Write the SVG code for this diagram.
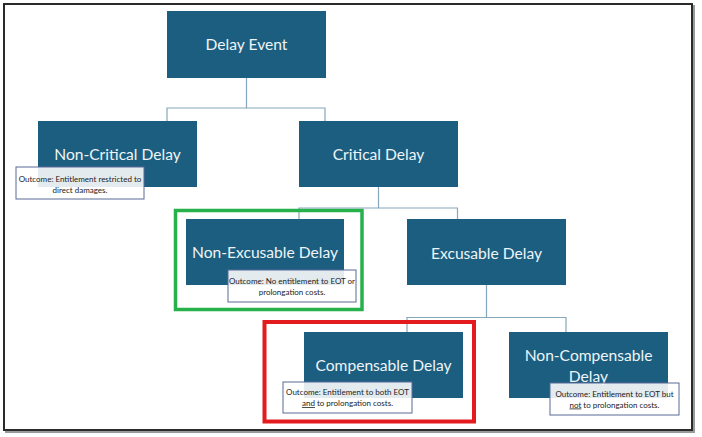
<svg xmlns="http://www.w3.org/2000/svg" width="702" height="437" viewBox="0 0 702 437">
<style>
.box{fill:#1b5e7f;}
.lbl{font-family:Lato,"Liberation Sans",sans-serif;font-size:15.6px;fill:#eef4f8;text-anchor:middle;}
.out{fill:#ffffff;fill-opacity:0.88;stroke:#5a6a9a;stroke-width:1;}
.otx{font-family:Lato,"Liberation Sans",sans-serif;font-size:8px;fill:#222;text-anchor:middle;}
.con{fill:none;stroke:#86a7bb;stroke-width:1.2;}
</style>
<rect x="0" y="0" width="702" height="437" fill="#ffffff"/>
<rect x="6" y="6" width="688" height="426" fill="none" stroke="#9a9a9a" stroke-width="2"/>
<rect x="4" y="4" width="688" height="426" fill="#ffffff" stroke="#2a2a2a" stroke-width="2"/>
<g id="connectors">
<polyline class="con" points="246.5,78 246.5,108 167,108 167,121"/>
<polyline class="con" points="246.5,108 325,108 325,121"/>
<polyline class="con" points="378.5,187 378.5,208 299,208 299,219"/>
<polyline class="con" points="378.5,208 457.5,208 457.5,219"/>
<polyline class="con" points="486.5,285 486.5,317.5 407,317.5 407,332"/>
<polyline class="con" points="486.5,317.5 566,317.5 566,332"/>
</g>
<g id="delay-event">
<rect class="box" x="167" y="11" width="159" height="67"/>
<text class="lbl" x="246.5" y="50">Delay Event</text>
</g>
<g id="non-critical">
<rect class="box" x="38" y="121" width="159" height="66"/>
<text class="lbl" x="117.5" y="159.5">Non-Critical Delay</text>
<rect class="out" x="16" y="167" width="128" height="32"/>
<text class="otx" x="80" y="181.5">Outcome: Entitlement restricted to</text>
<text class="otx" x="80" y="192.5">direct damages.</text>
</g>
<g id="critical">
<rect class="box" x="299" y="121" width="159" height="66"/>
<text class="lbl" x="378.5" y="159.5">Critical Delay</text>
</g>
<g id="non-excusable">
<rect x="175.5" y="210.5" width="186.5" height="99" fill="none" stroke="#27b14a" stroke-width="3.5"/>
<rect class="box" x="186" y="219" width="158" height="66"/>
<text class="lbl" x="265" y="257.5">Non-Excusable Delay</text>
<rect class="out" x="228" y="270" width="128" height="32"/>
<text class="otx" x="292" y="284">Outcome: No entitlement to EOT or</text>
<text class="otx" x="292" y="294.5">prolongation costs.</text>
</g>
<g id="excusable">
<rect class="box" x="407" y="219" width="159" height="66"/>
<text class="lbl" x="486.5" y="258.5">Excusable Delay</text>
</g>
<g id="compensable">
<rect x="264.5" y="322" width="209.5" height="99.5" fill="none" stroke="#e31b1e" stroke-width="4"/>
<rect class="box" x="304" y="332" width="159" height="66"/>
<text class="lbl" x="383.5" y="370.5">Compensable Delay</text>
<rect class="out" x="283" y="382" width="129" height="31"/>
<text class="otx" x="347.5" y="395">Outcome: Entitlement to both EOT</text>
<text class="otx" x="347.5" y="406"><tspan text-decoration="underline">and</tspan> to prolongation costs.</text>
</g>
<g id="non-compensable">
<rect class="box" x="509" y="332" width="159" height="66"/>
<text class="lbl" x="588.5" y="360.5">Non-Compensable</text>
<text class="lbl" x="588.5" y="382">Delay</text>
<rect class="out" x="550" y="383" width="129" height="32"/>
<text class="otx" x="614.5" y="397">Outcome: Entitlement to EOT but</text>
<text class="otx" x="614.5" y="407.5"><tspan text-decoration="underline">not</tspan> to prolongation costs.</text>
</g>
</svg>
